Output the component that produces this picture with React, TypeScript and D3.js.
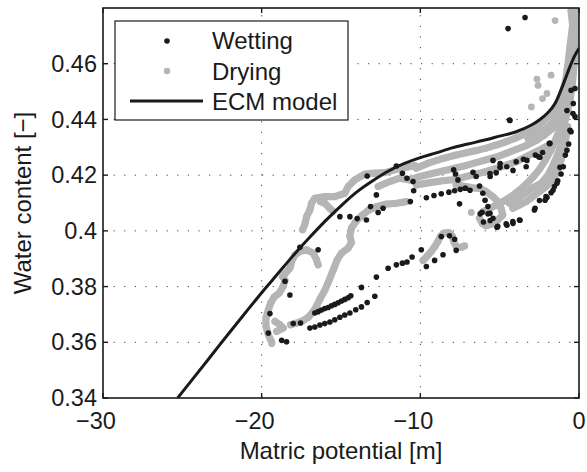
import React from 'react';
import * as d3 from 'd3';

type P = [number, number];

const xTicks = [-30, -20, -10, 0];
const xTickLabels = ['−30', '−20', '−10', '0'];
const yTicks = [0.34, 0.36, 0.38, 0.4, 0.42, 0.44, 0.46];
const yTickLabels = ['0.34', '0.36', '0.38', '0.4', '0.42', '0.44', '0.46'];
const legendLabels = ['Wetting', 'Drying', 'ECM model'];
const xTitle = 'Matric potential [m]';
const yTitle = 'Water content [−]';

// ECM model curve
const ecmX = [-25.3, -24, -23, -22, -21, -20, -19, -18, -17, -16, -15, -14, -13, -12, -11, -10, -9, -8, -7, -6, -5, -4, -3, -2.5, -2, -1.5, -1, -0.6, -0.3, 0];
const ecmY = [0.34, 0.3493, 0.3565, 0.3637, 0.3708, 0.3778, 0.3845, 0.3912, 0.3975, 0.4035, 0.409, 0.414, 0.418, 0.4215, 0.4242, 0.4263, 0.428, 0.4298, 0.4312, 0.4325, 0.434, 0.4355, 0.438, 0.4398, 0.4422, 0.4458, 0.4525, 0.4585, 0.4625, 0.4655];

// Drying: dense measurement trails
const dryLeft: P[] = [[-19.37, 0.36], [-19.58, 0.3627], [-19.73, 0.3657], [-19.73, 0.3687], [-19.58, 0.3717], [-19.43, 0.3741], [-19.22, 0.3762], [-18.89, 0.3777], [-18.64, 0.3801], [-18.53, 0.3822], [-18.68, 0.3836], [-18.22, 0.3866], [-18.11, 0.389], [-17.9, 0.3914], [-17.59, 0.3926], [-17.17, 0.3932], [-16.75, 0.392], [-16.54, 0.3896], [-16.44, 0.3878]];
const dryLeftBlob: P[] = [[-19.16, 0.3675], [-18.85, 0.3663], [-18.64, 0.3651], [-19.06, 0.3639]];
const dryUpper: P[] = [[-17.42, 0.4004], [-17.27, 0.4025], [-17.17, 0.4051], [-16.96, 0.4075], [-16.86, 0.4099], [-16.65, 0.4117], [-16.02, 0.4123], [-15.39, 0.4123], [-14.76, 0.4135], [-14.55, 0.4159], [-14.13, 0.4183], [-13.5, 0.4204], [-12.87, 0.4207], [-12.24, 0.4209], [-11.61, 0.4219], [-10.99, 0.4227], [-10.36, 0.4234]];
const dryUpperBlob: P[] = [[-16.3, 0.4105], [-16.02, 0.4099], [-15.7, 0.408], [-15.5, 0.407]];
const dryDescend: P[] = [[-10.88, 0.4105], [-11.51, 0.4099], [-12.14, 0.4096], [-12.77, 0.4087], [-13.29, 0.4073], [-13.71, 0.4054], [-14.07, 0.4033], [-14.34, 0.401], [-14.44, 0.3982], [-14.34, 0.3958], [-14.55, 0.3938], [-14.97, 0.392], [-15.24, 0.3896], [-15.49, 0.386], [-15.74, 0.3824], [-16.0, 0.3789], [-16.29, 0.3759], [-16.54, 0.3731], [-16.79, 0.3707], [-17.06, 0.369], [-17.38, 0.3678], [-17.8, 0.3669], [-18.18, 0.3663]];
const dryBand1: P[] = [[-10.25, 0.4225], [-9.41, 0.4245], [-8.57, 0.426], [-7.74, 0.4272], [-7.11, 0.428], [-6.48, 0.4288], [-5.85, 0.4297], [-5.22, 0.4308], [-4.59, 0.432], [-3.96, 0.4334], [-3.33, 0.435], [-2.7, 0.4371], [-2.29, 0.4392], [-1.87, 0.4416], [-1.55, 0.4439], [-1.24, 0.4469], [-1.03, 0.4499], [-0.86, 0.4535], [-0.75, 0.4577], [-0.65, 0.4619], [-0.57, 0.466], [-0.48, 0.4702], [-0.4, 0.4738], [-0.5, 0.479]];
const dryBand1b: P[] = [[-3.2, 0.433], [-2.6, 0.435], [-2.0, 0.437], [-1.5, 0.44], [-1.1, 0.444], [-0.8, 0.449], [-0.6, 0.455], [-0.45, 0.462], [-0.35, 0.47], [-0.3, 0.478]];
const dryBand2: P[] = [[-12.66, 0.4159], [-11.93, 0.4177], [-11.3, 0.4189], [-10.67, 0.4183], [-10.04, 0.4195], [-9.31, 0.4205], [-8.57, 0.4215], [-7.84, 0.4225], [-7.11, 0.4235], [-6.48, 0.4245], [-5.85, 0.4255], [-5.22, 0.4265], [-4.59, 0.4278], [-3.96, 0.4292], [-3.33, 0.4306], [-2.7, 0.4324], [-2.18, 0.4344], [-1.76, 0.4364], [-1.34, 0.4386], [-0.92, 0.441]];
const dryBand3: P[] = [[-10.25, 0.4165], [-9.41, 0.4173], [-8.57, 0.418], [-7.74, 0.4185], [-7.11, 0.4195], [-6.48, 0.4204], [-5.85, 0.4213], [-5.22, 0.4224], [-4.59, 0.4236], [-3.96, 0.4248], [-3.33, 0.4266], [-2.7, 0.4284], [-2.08, 0.4302]];
const dryRightTop: P[] = [[-0.2, 0.479], [-0.08, 0.4756], [-0.15, 0.4708], [-0.23, 0.466], [-0.29, 0.4613], [-0.36, 0.4565], [-0.44, 0.4517], [-0.57, 0.4469], [-0.71, 0.4433], [-0.86, 0.4398], [-1.03, 0.4374]];
const dryRight1: P[] = [[-0.71, 0.4374], [-0.82, 0.4338], [-0.92, 0.4302], [-1.07, 0.4266], [-1.24, 0.4233], [-1.45, 0.4204], [-1.76, 0.4177], [-2.08, 0.4159], [-2.49, 0.4141], [-2.91, 0.4123], [-3.33, 0.4105], [-3.75, 0.4093], [-4.17, 0.4081]];
const dryRight3: P[] = [[-0.95, 0.437], [-1.1, 0.432], [-1.3, 0.428], [-1.6, 0.424], [-1.95, 0.42], [-2.4, 0.417], [-2.9, 0.4155], [-3.4, 0.4135], [-3.9, 0.4115], [-4.4, 0.41]];
const dryRight2: P[] = [[-1.24, 0.4362], [-1.49, 0.4326], [-1.76, 0.429], [-2.12, 0.4254], [-2.49, 0.4221], [-2.91, 0.4192], [-3.33, 0.4168], [-3.79, 0.4144], [-4.28, 0.4123], [-4.8, 0.4105], [-5.22, 0.4092], [-5.64, 0.4081], [-6.06, 0.4069]];
const dryLoop: P[] = [[-6.27, 0.4153], [-5.85, 0.4141], [-5.43, 0.4123], [-5.12, 0.4105], [-4.91, 0.4081], [-4.8, 0.4057], [-5.12, 0.4039], [-5.47, 0.4025], [-5.85, 0.4018], [-6.1, 0.4027], [-6.27, 0.4045]];
const dryShort: P[] = [[-7.74, 0.4165], [-7.11, 0.4159], [-6.48, 0.4153]];
const dryLow: P[] = [[-9.83, 0.3894], [-9.56, 0.391], [-9.31, 0.3926], [-9.08, 0.3944], [-8.89, 0.3962], [-8.74, 0.398], [-8.53, 0.3992], [-8.22, 0.3994], [-7.99, 0.3982], [-7.9, 0.3962], [-7.74, 0.3944], [-7.42, 0.3941], [-7.21, 0.3946]];
const dryingTrails: P[][] = [dryLeft, dryLeftBlob, dryUpper, dryUpperBlob, dryDescend, dryBand1, dryBand1b, dryBand2, dryBand3, dryRightTop, dryRight1, dryRight3, dryRight2, dryLoop, dryShort, dryLow];
const dryingDots: P[] = [[-2.65, 0.4545], [-2.58, 0.4522], [-1.76, 0.4559], [-1.51, 0.4755], [-2.02, 0.4493], [-6.79, 0.4066], [-19.37, 0.3595], [-3.0, 0.4445], [-2.3, 0.4475]];

// Wetting: individual points
const wetting: P[] = [
  [-16.65, 0.3705], [-16.44, 0.371], [-16.23, 0.3716], [-16.02, 0.3721], [-15.81, 0.3725], [-15.6, 0.3731], [-15.39, 0.3736], [-15.18, 0.3742], [-14.97, 0.3748], [-14.76, 0.3754], [-14.55, 0.376], [-14.38, 0.3767],
  [-16.96, 0.3651], [-16.65, 0.3655], [-16.33, 0.3662], [-16.02, 0.3667], [-15.7, 0.3673], [-15.39, 0.3681], [-15.07, 0.369], [-14.76, 0.3698], [-14.44, 0.3705], [-14.07, 0.3717], [-13.71, 0.3727], [-13.35, 0.3743], [-12.87, 0.3765],
  [-19.58, 0.3633], [-18.74, 0.3607], [-18.43, 0.3602], [-18.01, 0.3667], [-17.55, 0.3669], [-19.48, 0.3703], [-18.22, 0.377], [-18.53, 0.3819], [-17.59, 0.3941], [-16.44, 0.3932], [-13.71, 0.3797],
  [-12.77, 0.3834], [-12.03, 0.3866], [-11.51, 0.3878], [-11.13, 0.3884], [-10.84, 0.3888], [-10.52, 0.3906], [-9.94, 0.3932], [-9.62, 0.3872], [-9.1, 0.3894], [-8.57, 0.3914], [-8.68, 0.398], [-8.16, 0.3982], [-7.84, 0.397], [-7.74, 0.393],
  [-15.07, 0.4051], [-14.44, 0.4051], [-13.98, 0.4044], [-13.4, 0.4039], [-12.66, 0.4066], [-12.35, 0.4081], [-13.14, 0.4087], [-12.77, 0.4129], [-13.35, 0.4197], [-11.51, 0.4233], [-11.13, 0.4207], [-10.84, 0.4189], [-10.46, 0.4177], [-10.42, 0.4144], [-10.63, 0.4105],
  [-9.62, 0.4119], [-9.14, 0.4127], [-8.68, 0.4133], [-8.2, 0.4139], [-7.84, 0.4144], [-7.48, 0.4149], [-7.15, 0.4153], [-7.53, 0.4097], [-7.9, 0.4219], [-7.78, 0.4204], [-7.63, 0.4183],
  [-6.48, 0.4195], [-6.27, 0.4161], [-6.06, 0.4135], [-5.6, 0.4195], [-5.22, 0.4209], [-4.97, 0.4242], [-4.55, 0.423], [-3.96, 0.4248], [-3.5, 0.4257], [-2.75, 0.4272], [-3.33, 0.423], [-4.38, 0.4398], [-1.87, 0.4314], [-2.29, 0.4281], [-2.54, 0.4266],
  [-0.5, 0.4505], [-0.36, 0.4457], [-0.25, 0.441], [-0.5, 0.4356], [-0.65, 0.4312], [-0.86, 0.4272], [-0.99, 0.423], [-1.13, 0.4204], [-1.34, 0.418], [-1.55, 0.4159], [-1.76, 0.4137], [-2.08, 0.4123], [-2.49, 0.4109], [-2.81, 0.4075], [-3.75, 0.4039], [-4.17, 0.4033], [-4.59, 0.4025], [-5.12, 0.4016], [-5.6, 0.4037], [-5.74, 0.4061], [-5.74, 0.4087], [-6.23, 0.4061], [-6.02, 0.4032],
  [-4.35, 0.4396], [-0.38, 0.4421], [-0.76, 0.4432], [-0.57, 0.4361], [-0.76, 0.4289], [-1.2, 0.4228], [-1.39, 0.4171], [-1.64, 0.4146], [-2.02, 0.412], [-0.25, 0.4511],
  [-5.42, 0.4253], [-4.98, 0.4228], [-4.16, 0.4217], [-3.28, 0.4253], [-2.46, 0.4264], [-1.83, 0.4314], [-6.68, 0.421], [-5.61, 0.4206], [-6.87, 0.4146], [-7.18, 0.4153], [-5.92, 0.411], [-5.61, 0.4063], [-6.11, 0.4067], [-5.42, 0.4045], [-5.17, 0.4013], [-4.54, 0.402], [-4.16, 0.4027], [-3.72, 0.4038], [-2.77, 0.4081], [-2.14, 0.411],
  [-4.47, 0.4726], [-3.4, 0.4766],
];

const FONT = '"Liberation Sans", Arial, Helvetica, sans-serif';
const GRAY = '#b5b5b5';
const DARK = '#1a1a1a';

export default function App() {
  const W = 587, H = 472;
  const L = 103, R = 579, T = 8, B = 398;
  const x = d3.scaleLinear().domain([-30, 0]).range([L, R]);
  const y = d3.scaleLinear().domain([0.34, 0.48]).range([B, T]);
  const trail = d3.line<P>().x(d => x(d[0])).y(d => y(d[1]));
  const ecmLine = d3.line<number>().x((_, i) => x(ecmX[i])).y(d => y(d)).curve(d3.curveMonotoneX);

  return (
    <svg width={W} height={H} style={{ position: 'absolute', left: 0, top: 0, background: '#fff' }} fontFamily={FONT}>
      <defs>
        <clipPath id="plotclip">
          <rect x={L} y={T} width={R - L} height={B - T} />
        </clipPath>
      </defs>
      <rect x={0} y={0} width={W} height={H} fill="#fff" />
      {/* grid */}
      <g stroke="#444" strokeWidth={1} strokeDasharray="1.2 9.4">
        {xTicks.filter(t => t > -30 && t < 0).map(t => (
          <line key={'gx' + t} x1={x(t)} x2={x(t)} y1={B} y2={T} />
        ))}
        {yTicks.filter(t => t > 0.34).map(t => (
          <line key={'gy' + t} x1={L} x2={R} y1={y(t)} y2={y(t)} />
        ))}
      </g>
      {/* data */}
      <g clipPath="url(#plotclip)">
        {dryingTrails.map((tr, i) => (
          <path key={'tr' + i} d={trail(tr) || ''} fill="none" stroke={GRAY} strokeWidth={7.2} strokeLinecap="round" strokeLinejoin="round" />
        ))}
        {dryingTrails.flat().concat(dryingDots).map((d, i) => (
          <circle key={'dd' + i} cx={x(d[0])} cy={y(d[1])} r={3.4} fill={GRAY} />
        ))}
        {wetting.map((d, i) => (
          <circle key={'w' + i} cx={x(d[0])} cy={y(d[1])} r={2.8} fill={DARK} />
        ))}
        <path d={ecmLine(ecmY) || ''} fill="none" stroke={DARK} strokeWidth={3} />
      </g>
      {/* axes box and ticks */}
      <g stroke={DARK} strokeWidth={1.4}>
        {xTicks.map(t => (
          <g key={'xt' + t}>
            <line x1={x(t)} x2={x(t)} y1={B} y2={B - 5} />
            <line x1={x(t)} x2={x(t)} y1={T} y2={T + 5} />
          </g>
        ))}
        {yTicks.map(t => (
          <g key={'yt' + t}>
            <line x1={L} x2={L + 5} y1={y(t)} y2={y(t)} />
            <line x1={R} x2={R - 5} y1={y(t)} y2={y(t)} />
          </g>
        ))}
        <rect x={L} y={T} width={R - L} height={B - T} fill="none" strokeWidth={1.6} />
      </g>
      {/* tick labels */}
      <g fontSize={23.5} fill={DARK}>
        {xTicks.map((t, i) => (
          <text key={'xl' + t} x={x(t) + (t < 0 ? -7 : 0)} y={429} textAnchor="middle">{xTickLabels[i]}</text>
        ))}
        {yTicks.map((t, i) => (
          <text key={'yl' + t} x={97} y={y(t) + 8.2} textAnchor="end">{yTickLabels[i]}</text>
        ))}
      </g>
      <g fontSize={24} fill={DARK}>
        <text x={(L + R) / 2} y={459} textAnchor="middle">{xTitle}</text>
        <text transform={`translate(31,${(T + B) / 2}) rotate(-90)`} textAnchor="middle">{yTitle}</text>
      </g>
      {/* legend */}
      <g>
        <rect x={115} y={21} width={233} height={99} fill="#fff" stroke={DARK} strokeWidth={1.2} />
        <circle cx={167} cy={41} r={2.8} fill={DARK} />
        <circle cx={167} cy={71} r={3.2} fill={GRAY} />
        <line x1={130} x2={203} y1={101} y2={101} stroke={DARK} strokeWidth={3} />
        {legendLabels.map((l, i) => (
          <text key={l} x={212} y={49 + i * 30.5} fontSize={24} fill={DARK}>{l}</text>
        ))}
      </g>
    </svg>
  );
}
